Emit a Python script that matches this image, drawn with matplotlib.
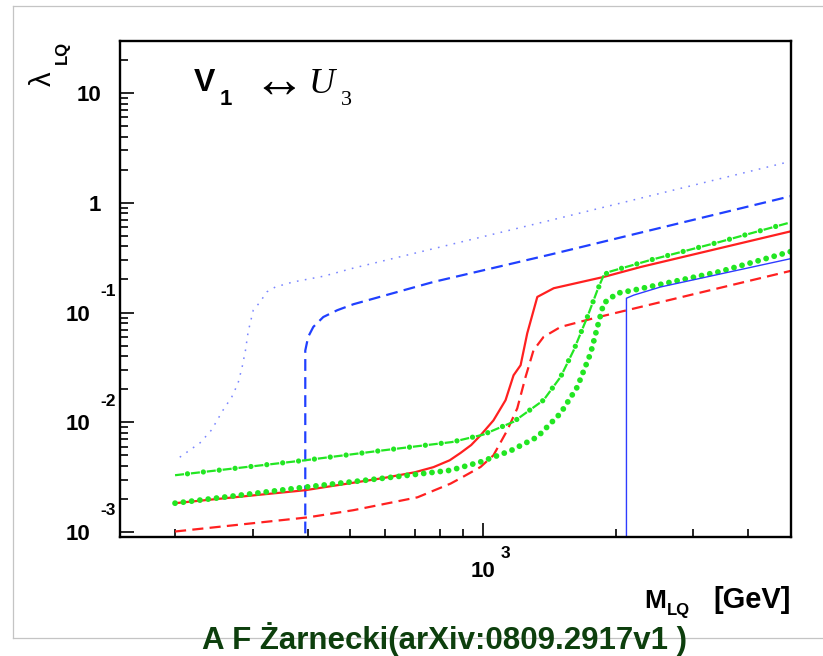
import matplotlib
matplotlib.use('Agg')
import matplotlib.pyplot as plt
import matplotlib.transforms as mtrans
from matplotlib.lines import Line2D

# ---------------- data ----------------
blue_dot_m = [205, 228, 242, 257, 269, 278, 284, 289, 293, 301, 312, 323, 338, 371, 434, 508, 1424, 5000]
blue_dot_l = [0.0048, 0.0065, 0.0085, 0.0129, 0.0170, 0.0227, 0.0319, 0.0453, 0.0665, 0.105, 0.125,
              0.154, 0.171, 0.190, 0.214, 0.254, 0.693, 2.39]

blue_dash_m = [395, 395, 401, 412, 434, 467, 508, 546, 772, 1096, 1424, 5000]
blue_dash_l = [1e-4, 0.045, 0.060, 0.074, 0.091, 0.105, 0.119, 0.129, 0.190, 0.264, 0.338, 1.15]

red_m = [200, 394, 594, 700, 772, 840, 889, 940, 987, 1056, 1125, 1173, 1217, 1260, 1328, 1447, 1879, 2280, 5000]
red_l = [0.00183, 0.0024, 0.0031, 0.0035, 0.0039, 0.0045, 0.00525, 0.0062, 0.0076, 0.0104, 0.0159, 0.0268,
         0.0331, 0.0647, 0.1387, 0.1665, 0.211, 0.260, 0.55]

red_dash_m = [200, 401, 508, 710, 844, 889, 987, 1056, 1135, 1196, 1249, 1302, 1372, 1500, 1783, 2280, 5000]
red_dash_l = [0.00101, 0.00136, 0.00158, 0.00207, 0.00276, 0.00309, 0.00391, 0.0050, 0.00845, 0.0134,
              0.0259, 0.0453, 0.0599, 0.0739, 0.0887, 0.1125, 0.24]

green_dd_m = [200, 394, 594, 850, 1000, 1173, 1372, 1500, 1606, 1725, 1818, 1879, 1934, 2428, 3447, 5000]
green_dd_l = [0.00329, 0.0045, 0.00555, 0.0066, 0.0077, 0.0101, 0.0159, 0.0259, 0.0453, 0.0912, 0.160,
              0.219, 0.235, 0.305, 0.44, 0.665]

green_dot_m = [200, 394, 594, 844, 987, 1155, 1328, 1500, 1637, 1755, 1818, 1879, 2018, 2198, 3447, 5000]
green_dot_l = [0.00183, 0.00256, 0.00309, 0.00365, 0.00435, 0.0055, 0.00734, 0.0121, 0.0210, 0.0426,
               0.0739, 0.1216, 0.150, 0.160, 0.236, 0.36]

blue_m = [2116, 2116, 2198, 2530, 5000]
blue_l = [1e-4, 0.135, 0.144, 0.171, 0.31]

ytick_vals = [10, 1, 0.1, 0.01, 0.001]
ytick_main = ['10', '1', '10', '10', '10']
ytick_sup = ['', '', '-1', '-2', '-3']
xtick_vals = [1000]
xtick_main = ['10']
xtick_sup = ['3']
x_minor = [200, 300, 400, 500, 600, 700, 800, 900, 2000, 3000, 4000]
y_minor = [m * 10.0 ** e for e in range(-4, 2) for m in range(2, 10)]

# ---------------- figure ----------------
plt.rcParams['lines.scale_dashes'] = False
plt.rcParams['font.family'] = ['Liberation Sans', 'DejaVu Sans']

W, H = 823, 656
fig = plt.figure(figsize=(W / 100, H / 100), dpi=100)


def fx(px):
    return px / W


def fy(py):
    return 1 - py / H


ax = fig.add_axes([fx(120), fy(537), fx(791) - fx(120), fy(40.7) - fy(537)])
ax.set_xscale('log')
ax.set_yscale('log')
ax.set_xlim(150, 5000)
ax.set_ylim(9e-4, 30)

for s in ax.spines.values():
    s.set_linewidth(1.7)
ax.set_xticks(xtick_vals)
ax.set_xticks(x_minor, minor=True)
ax.set_yticks(ytick_vals)
ax.set_yticks([v for v in y_minor if 9e-4 < v < 30], minor=True)
ax.tick_params(which='both', direction='in', top=False, right=False,
               labelbottom=False, labelleft=False, width=1.2, color='black')
ax.tick_params(which='major', length=10)
ax.tick_params(which='minor', length=5.5)

# curves
green = '#22e622'
red = '#ff2020'
ax.plot(blue_dot_m, blue_dot_l, color='#7a86ff', lw=1.1, linestyle=(0, (1.2, 4.6)))
ax.plot(blue_dash_m, blue_dash_l, color='#2040ff', lw=1.6, linestyle=(0, (8.5, 4.5)))
ax.plot(red_m, red_l, color=red, lw=1.6)
ax.plot(red_dash_m, red_dash_l, color=red, lw=1.6, linestyle=(0, (8, 4.5)))
ax.plot(green_dd_m, green_dd_l, color=green, lw=1.6, linestyle=(0, (6.5, 5)))
ax.plot(green_dd_m, green_dd_l, color=green, lw=3.8, linestyle=(2.5, (0.01, 11.49)),
        dash_capstyle='round')
ax.plot(green_dot_m, green_dot_l, color=green, lw=4.2, linestyle=(0, (0.01, 6.0)),
        dash_capstyle='round')
ax.plot(blue_m, blue_l, color='#2e3cff', lw=1.0)

# tick labels
yt = mtrans.blended_transform_factory(fig.transFigure, ax.transData)
for v, main, sup in zip(ytick_vals, ytick_main, ytick_sup):
    right = 90 if sup else 101
    ax.text(fx(right), v, main, transform=mtrans.offset_copy(yt, fig=fig, y=-5.8, units='points'),
            ha='right', va='baseline', fontsize=16, fontweight='bold')
    if sup:
        ax.text(fx(100), v, sup, transform=mtrans.offset_copy(yt, fig=fig, y=12.0, units='points'),
                ha='left', va='baseline', fontsize=12.5, fontweight='bold')

xt = mtrans.blended_transform_factory(ax.transData, fig.transFigure)
for v, main, sup in zip(xtick_vals, xtick_main, xtick_sup):
    ax.text(v, fy(577), main, transform=xt, ha='center', va='baseline', fontsize=16, fontweight='bold')
    ax.text(v, fy(558), sup, transform=mtrans.offset_copy(xt, fig=fig, x=12.5, units='points'),
            ha='left', va='baseline', fontsize=12.5, fontweight='bold')

# axis titles
fig.text(fx(644), fy(608), 'M', fontsize=19, fontweight='bold', ha='left', va='baseline')
fig.text(fx(667), fy(615), 'LQ', fontsize=12, fontweight='bold', ha='left', va='baseline')
fig.text(fx(791), fy(608), '[GeV]', fontsize=21, fontweight='bold', ha='right', va='baseline')

fig.text(fx(57), fy(86), 'λ', fontsize=21, rotation=90, ha='right', va='bottom')
fig.text(fx(70), fy(64), 'LQ', fontsize=12, fontweight='bold', rotation=90, ha='right', va='bottom')

# in-plot label
fig.text(fx(194), fy(91), 'V', fontsize=23, fontweight='bold', ha='left', va='baseline')
fig.text(fx(220), fy(105), '1', fontsize=16, fontweight='bold', ha='left', va='baseline')
fig.text(fx(252), fy(97), '↔', fontsize=38, ha='left', va='baseline',
         family=['Liberation Serif', 'DejaVu Sans'])
fig.text(fx(309), fy(93), 'U', fontsize=26, style='italic', ha='left', va='baseline',
         family=['Liberation Serif', 'DejaVu Serif'])
fig.text(fx(341), fy(105), '3', fontsize=16, ha='left', va='baseline',
         family=['Liberation Serif', 'DejaVu Serif'])

# slide frame and credit
frame_col = '#c4c4c4'
fig.add_artist(Line2D([fx(13), fx(13)], [fy(6), fy(638)], transform=fig.transFigure, color=frame_col, lw=0.9))
fig.add_artist(Line2D([fx(13), 1], [fy(6), fy(6)], transform=fig.transFigure, color=frame_col, lw=0.9))
fig.add_artist(Line2D([fx(13), 1], [fy(638), fy(638)], transform=fig.transFigure, color=frame_col, lw=0.9))
fig.text(fx(445), fy(649), 'A F Żarnecki(arXiv:0809.2917v1 )', fontsize=22.5, fontweight='bold',
         color='#0d3f0d', ha='center', va='baseline', zorder=5)

fig.savefig('out.png', dpi=100)
